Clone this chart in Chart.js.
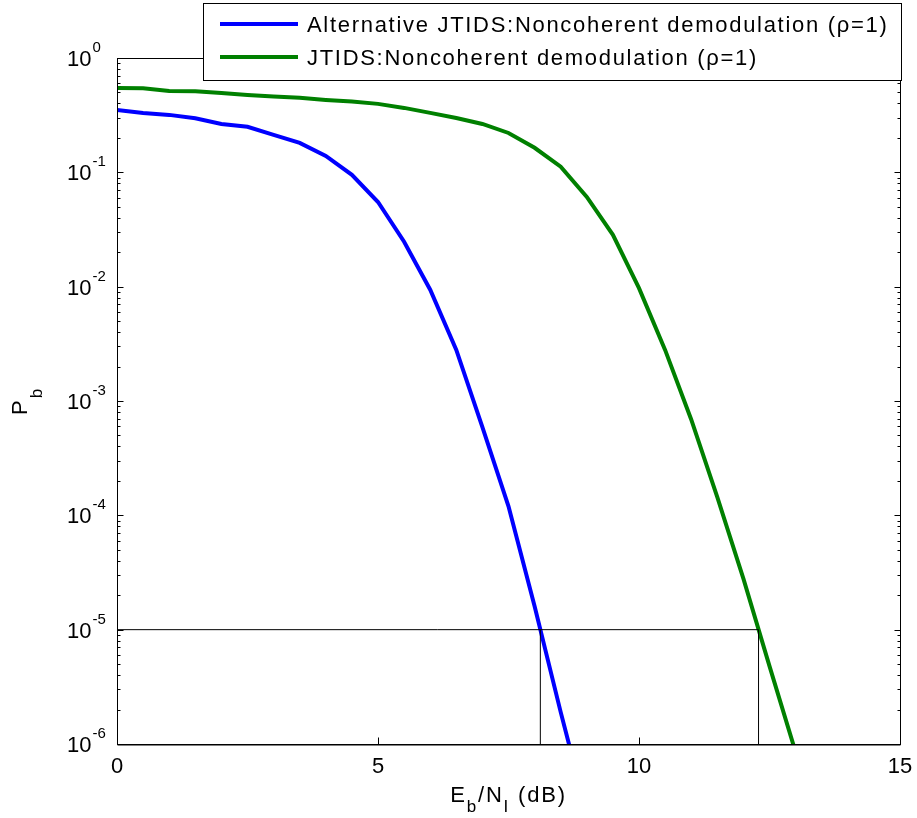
<!DOCTYPE html>
<html>
<head>
<meta charset="utf-8">
<script src="https://cdn.jsdelivr.net/npm/chart.js@4/dist/chart.umd.min.js"></script>
<style>
  html, body { margin: 0; padding: 0; background: #fff; }
  canvas { display: block; }
</style>
</head>
<body>
<canvas id="chart" width="917" height="818"></canvas>
<script>
// Eb/NI in dB, one sample every 0.5 dB
const ebnoDb = [0, 0.5, 1, 1.5, 2, 2.5, 3, 3.5, 4, 4.5, 5, 5.5, 6, 6.5, 7, 7.5, 8, 8.5, 9,
                9.5, 10, 10.5, 11, 11.5, 12, 12.5, 13];

// Alternative JTIDS, noncoherent (blue)
const altPb = [0.351, 0.331, 0.318, 0.297, 0.265, 0.250, 0.213, 0.181, 0.139, 0.095,
               0.055, 0.0247, 0.0094, 0.0028, 5.9e-4, 1.2e-4, 1.6e-5, 1.9e-6, 2.5e-7];

// JTIDS, noncoherent (green)
const jtidsPb = [0.547, 0.545, 0.515, 0.513, 0.495, 0.475, 0.461, 0.448, 0.430, 0.417,
                 0.397, 0.366, 0.331, 0.299, 0.265, 0.221, 0.164, 0.112, 0.061, 0.0284,
                 0.0097, 0.0028, 6.9e-4, 1.44e-4, 2.8e-5, 4.8e-6, 8.5e-7];

const seriesLabels = ['Alternative JTIDS:Noncoherent demodulation (\u03C1=1)',
                      'JTIDS:Noncoherent demodulation (\u03C1=1)'];

// reference lines at Pb = 1e-5
const targetPb = 1e-5;
const altCrossDb = 8.11;
const jtidsCrossDb = 12.29;

const xTicks = [0, 5, 10, 15];
const yExponents = [0, -1, -2, -3, -4, -5, -6];

const FONT = '"Liberation Sans", Arial, Helvetica, sans-serif';

function toPoints(xs, ys) {
  return ys.map((y, i) => ({ x: xs[i], y: y }));
}

function refLine(points) {
  return {
    data: points,
    borderColor: '#000',
    borderWidth: 1,
    pointRadius: 0,
    showLine: true,
    clip: 0,
    order: 0,
    inLegend: false
  };
}

// axes box, inward ticks, tick labels, axis titles and legend, matlab style
const matlabAxes = {
  id: 'matlabAxes',
  afterDraw(chart) {
    const ctx = chart.ctx;
    const a = chart.chartArea;
    const xs = chart.scales.x;
    const ys = chart.scales.y;
    const L = Math.round(a.left) + 0.5, R = Math.round(a.right) + 0.5;
    const T = Math.round(a.top) + 0.5, B = Math.round(a.bottom) + 0.5;

    ctx.save();
    ctx.strokeStyle = '#000';
    ctx.lineWidth = 1;
    ctx.strokeRect(L, T, R - L, B - T);

    ctx.beginPath();
    // y ticks, left and right
    yExponents.forEach(e => {
      const py = Math.round(ys.getPixelForValue(Math.pow(10, e))) + 0.5;
      ctx.moveTo(L, py); ctx.lineTo(L + 6, py);
      ctx.moveTo(R, py); ctx.lineTo(R - 6, py);
      if (e < 0) {
        for (let m = 2; m <= 9; m++) {
          const pm = Math.round(ys.getPixelForValue(m * Math.pow(10, e))) + 0.5;
          ctx.moveTo(L, pm); ctx.lineTo(L + 3, pm);
          ctx.moveTo(R, pm); ctx.lineTo(R - 3, pm);
        }
      }
    });
    // x ticks, bottom and top
    xTicks.forEach(v => {
      const px = Math.round(xs.getPixelForValue(v)) + 0.5;
      ctx.moveTo(px, B); ctx.lineTo(px, B - 7);
      ctx.moveTo(px, T); ctx.lineTo(px, T + 7);
    });
    ctx.stroke();
    // bottom axis a bit heavier, like the reference
    ctx.beginPath();
    ctx.moveTo(L, B + 0.5); ctx.lineTo(R, B + 0.5);
    ctx.stroke();

    ctx.fillStyle = '#000';
    ctx.textBaseline = 'alphabetic';

    // x tick labels
    ctx.font = '22px ' + FONT;
    ctx.textAlign = 'center';
    xTicks.forEach(v => {
      ctx.fillText(String(v), xs.getPixelForValue(v), B + 28);
    });

    // y tick labels 10^e
    yExponents.forEach(e => {
      const py = ys.getPixelForValue(Math.pow(10, e));
      ctx.font = '22px ' + FONT;
      ctx.textAlign = 'right';
      ctx.fillText('10', L - 26, py + 8);
      ctx.font = '15px ' + FONT;
      ctx.textAlign = 'left';
      ctx.fillText(String(e), L - 25, py - 6);
    });

    // x title: E_b/N_I (dB)
    ctx.letterSpacing = '1.8px';
    const xParts = [['E', 22, 0], ['b', 17, 10], ['/N', 22, 0], ['I', 17, 10], [' (dB)', 22, 0]];
    let total = 0;
    xParts.forEach(p => { ctx.font = p[1] + 'px ' + FONT; total += ctx.measureText(p[0]).width; });
    let cx = (a.left + a.right) / 2 - total / 2;
    ctx.textAlign = 'left';
    xParts.forEach(p => {
      ctx.font = p[1] + 'px ' + FONT;
      ctx.fillText(p[0], cx, B + 57 + p[2]);
      cx += ctx.measureText(p[0]).width;
    });
    ctx.letterSpacing = '0px';

    // y title: P_b
    ctx.save();
    ctx.translate(27, 415);
    ctx.rotate(-Math.PI / 2);
    ctx.font = '22px ' + FONT;
    ctx.fillText('P', 0, 0);
    const pw = ctx.measureText('P').width;
    ctx.font = '17px ' + FONT;
    ctx.fillText('b', pw + 2, 15);
    ctx.restore();

    // legend box
    const lx = 203.5, ly = 3.5, lw = 698, lh = 77;
    ctx.fillStyle = '#fff';
    ctx.fillRect(lx, ly, lw, lh);
    ctx.strokeStyle = '#000';
    ctx.lineWidth = 1;
    ctx.strokeRect(lx, ly, lw, lh);
    const rows = [24, 57];
    ctx.letterSpacing = '1.7px';
    chart.data.datasets.filter(d => d.inLegend).forEach((d, i) => {
      ctx.strokeStyle = d.borderColor;
      ctx.lineWidth = 4;
      ctx.beginPath();
      ctx.moveTo(220, rows[i]);
      ctx.lineTo(298, rows[i]);
      ctx.stroke();
      ctx.fillStyle = '#000';
      ctx.font = '22px ' + FONT;
      ctx.fillText(d.label, 307, rows[i] + 8);
    });
    ctx.letterSpacing = '0px';
    ctx.restore();
  }
};

new Chart(document.getElementById('chart').getContext('2d'), {
  type: 'scatter',
  data: {
    datasets: [
      {
        label: seriesLabels[0],
        data: toPoints(ebnoDb, altPb),
        borderColor: '#0000ff',
        backgroundColor: '#0000ff',
        borderWidth: 4,
        pointRadius: 0,
        showLine: true,
        clip: 0,
        order: 1,
        inLegend: true
      },
      {
        label: seriesLabels[1],
        data: toPoints(ebnoDb, jtidsPb),
        borderColor: '#008000',
        backgroundColor: '#008000',
        borderWidth: 4,
        pointRadius: 0,
        showLine: true,
        clip: 0,
        order: 2,
        inLegend: true
      },
      refLine([{ x: 0, y: targetPb }, { x: jtidsCrossDb, y: targetPb }]),
      refLine([{ x: altCrossDb, y: 1e-6 }, { x: altCrossDb, y: targetPb }]),
      refLine([{ x: jtidsCrossDb, y: 1e-6 }, { x: jtidsCrossDb, y: targetPb }])
    ]
  },
  options: {
    responsive: false,
    devicePixelRatio: 1,
    animation: false,
    layout: { padding: { left: 117, top: 58, right: 17, bottom: 74 } },
    scales: {
      x: { type: 'linear', min: 0, max: 15, display: false },
      y: { type: 'logarithmic', min: 1e-6, max: 1, display: false }
    },
    plugins: {
      legend: { display: false },
      tooltip: { enabled: false }
    }
  },
  plugins: [matlabAxes]
});
</script>
</body>
</html>
